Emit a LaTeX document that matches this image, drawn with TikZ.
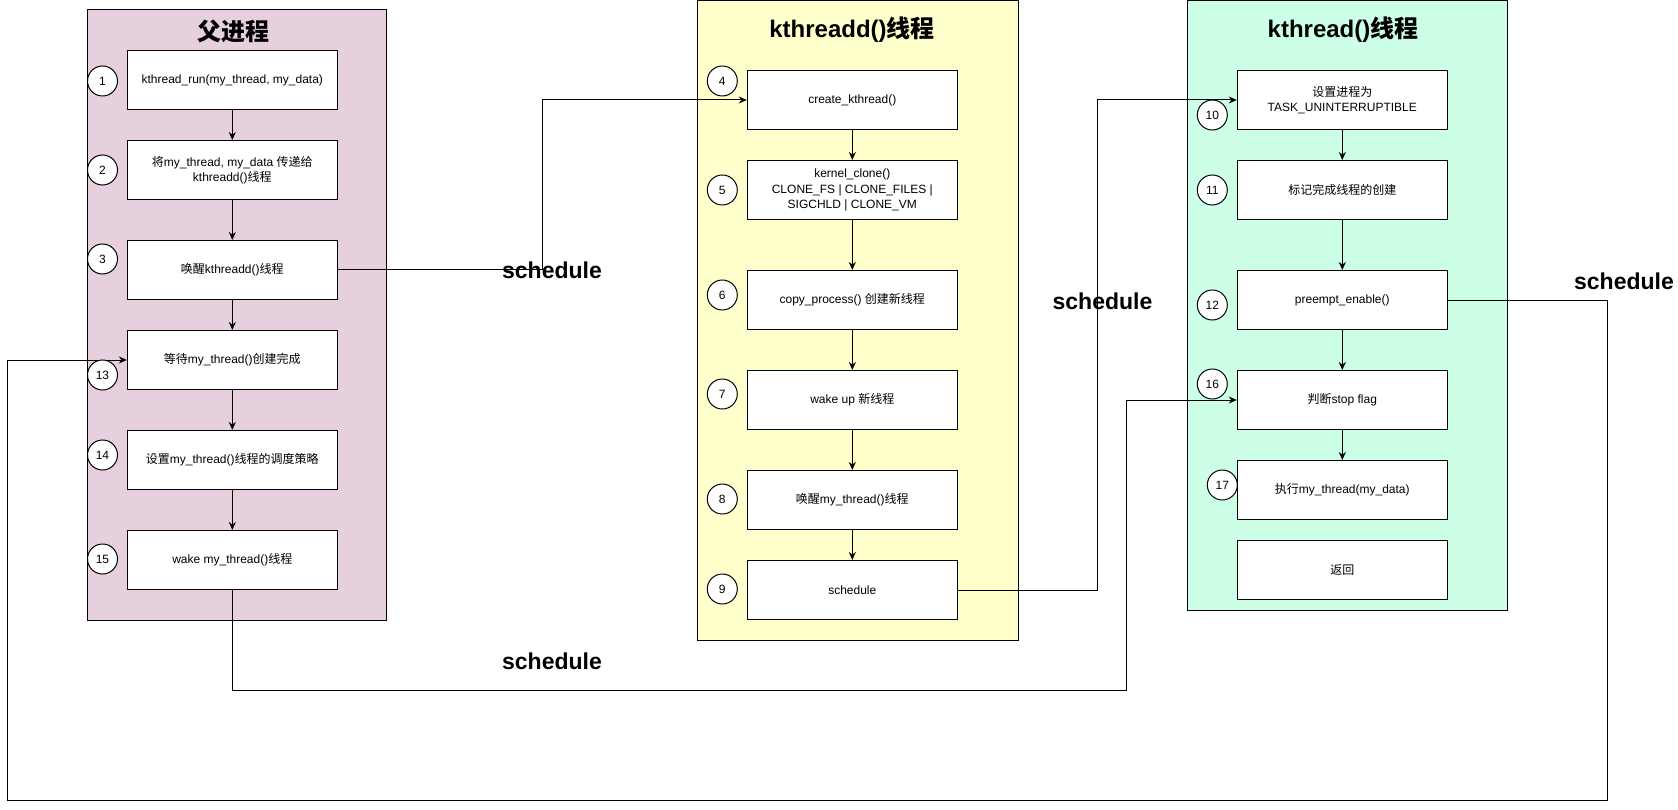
\documentclass[tikz,border=0pt]{standalone}
\usepackage{fontspec}
\setmainfont{Liberation Sans}
\newfontfamily\cjk{Noto Sans CJK SC}
\usetikzlibrary{arrows.meta}
\definecolor{pinkfill}{HTML}{E6D0DE}
\definecolor{yellowfill}{HTML}{FFFFCC}
\definecolor{greenfill}{HTML}{CCFFE6}
\newcommand{\zh}[1]{{\cjk #1}}
\begin{document}
\begin{tikzpicture}[x=1pt,y=-1pt,
  stepbox/.style={draw=black, fill=white, minimum width=210pt, minimum height=59pt, inner sep=0pt, align=center, font=\fontsize{12}{15.6}\selectfont, line width=1pt},
  numcirc/.style={circle, draw=black, fill=white, minimum size=30pt, inner sep=0pt, font=\fontsize{12}{14}\selectfont, line width=1pt},
  container/.style={draw=black, line width=1pt},
  titletext/.style={font=\fontsize{24}{28}\selectfont\bfseries},
  schedlabel/.style={font=\fontsize{23}{27}\selectfont\bfseries},
  arr/.style={-{Stealth[length=8pt,width=7pt]}, line width=1pt},
  link/.style={line width=1pt}]
\fill[white] (0,0) rectangle (1678,810);
\useasboundingbox (0,0) rectangle (1678,810);

% containers
\draw[container, fill=pinkfill] (87.3,10) rectangle (386.7,620);
\draw[container, fill=yellowfill] (697.3,0.5) rectangle (1018,640);
\draw[container, fill=greenfill] (1187.3,0.5) rectangle (1507.3,610);

\node[titletext] (t1) at (233,31) {\zh{父进程}};
\node[titletext] (t2) at (852,30) {kthreadd()\zh{线程}};
\node[titletext] (t3) at (1343,30) {kthread()\zh{线程}};

% left column
\node[stepbox] (b1) at (232.3,80) {kthread\_run(my\_thread, my\_data)};
\node[stepbox] (b2) at (232.3,170) {\zh{将}my\_thread, my\_data \zh{传递给}\\kthreadd()\zh{线程}};
\node[stepbox] (b3) at (232.3,270) {\zh{唤醒}kthreadd()\zh{线程}};
\node[stepbox] (b13) at (232.3,360) {\zh{等待}my\_thread()\zh{创建完成}};
\node[stepbox] (b14) at (232.3,460) {\zh{设置}my\_thread()\zh{线程的调度策略}};
\node[stepbox] (b15) at (232.3,560) {wake my\_thread()\zh{线程}};

% middle column
\node[stepbox] (b4) at (852.3,100) {create\_kthread()};
\node[stepbox] (b5) at (852.3,190) {kernel\_clone()\\CLONE\_FS | CLONE\_FILES |\\SIGCHLD | CLONE\_VM};
\node[stepbox] (b6) at (852.3,300) {copy\_process() \zh{创建新线程}};
\node[stepbox] (b7) at (852.3,400) {wake up \zh{新线程}};
\node[stepbox] (b8) at (852.3,500) {\zh{唤醒}my\_thread()\zh{线程}};
\node[stepbox] (b9) at (852.3,590) {schedule};

% right column
\node[stepbox] (b10) at (1342.3,100) {\zh{设置进程为}\\TASK\_UNINTERRUPTIBLE};
\node[stepbox] (b11) at (1342.3,190) {\zh{标记完成线程的创建}};
\node[stepbox] (b12) at (1342.3,300) {preempt\_enable()};
\node[stepbox] (b16) at (1342.3,400) {\zh{判断}stop flag};
\node[stepbox] (b17) at (1342.3,490) {\zh{执行}my\_thread(my\_data)};
\node[stepbox] (b18) at (1342.3,570) {\zh{返回}};

% vertical arrows
\draw[arr] (b1) -- (b2);
\draw[arr] (b2) -- (b3);
\draw[arr] (b3) -- (b13);
\draw[arr] (b13) -- (b14);
\draw[arr] (b14) -- (b15);
\draw[arr] (b4) -- (b5);
\draw[arr] (b5) -- (b6);
\draw[arr] (b6) -- (b7);
\draw[arr] (b7) -- (b8);
\draw[arr] (b8) -- (b9);
\draw[arr] (b10) -- (b11);
\draw[arr] (b11) -- (b12);
\draw[arr] (b12) -- (b16);
\draw[arr] (b16) -- (b17);

% schedule connectors
\coordinate (c1) at (542.5,270);
\coordinate (c2) at (1097.5,590);
\coordinate (c3a) at (1607.5,300);
\coordinate (c3b) at (1607.5,800);
\coordinate (c3c) at (7.5,800);
\coordinate (c4a) at (232.3,690.5);
\coordinate (c4b) at (1126.5,690.5);
\draw[arr] (b3.east) -- (c1) |- (b4.west);
\draw[arr] (b9.east) -- (c2) |- (b10.west);
\draw[arr] (b12.east) -- (c3a) -- (c3b) -- (c3c) |- (b13.west);
\draw[arr] (b15.south) -- (c4a) -- (c4b) |- (b16.west);

% number circles
\node[numcirc] (n1) at (102.5,81) {1};
\node[numcirc] (n2) at (102.5,170) {2};
\node[numcirc] (n3) at (102.5,259) {3};
\node[numcirc] (n13) at (102.5,375) {13};
\node[numcirc] (n14) at (102.5,455) {14};
\node[numcirc] (n15) at (102.5,559) {15};
\node[numcirc] (n4) at (722.3,81) {4};
\node[numcirc] (n5) at (722.3,190) {5};
\node[numcirc] (n6) at (722.3,295) {6};
\node[numcirc] (n7) at (722.3,394) {7};
\node[numcirc] (n8) at (722.3,499) {8};
\node[numcirc] (n9) at (722.3,589) {9};
\node[numcirc] (n10) at (1212.3,115) {10};
\node[numcirc] (n11) at (1212.3,190) {11};
\node[numcirc] (n12) at (1212.3,305) {12};
\node[numcirc] (n16) at (1212.3,384) {16};
\node[numcirc] (n17) at (1222.3,485) {17};

% schedule labels
\node[schedlabel] (s1) at (552,270) {schedule};
\node[schedlabel] (s2) at (1102.5,301) {schedule};
\node[schedlabel] (s3) at (1624,281) {schedule};
\node[schedlabel] (s4) at (552,661) {schedule};
\end{tikzpicture}
\end{document}
